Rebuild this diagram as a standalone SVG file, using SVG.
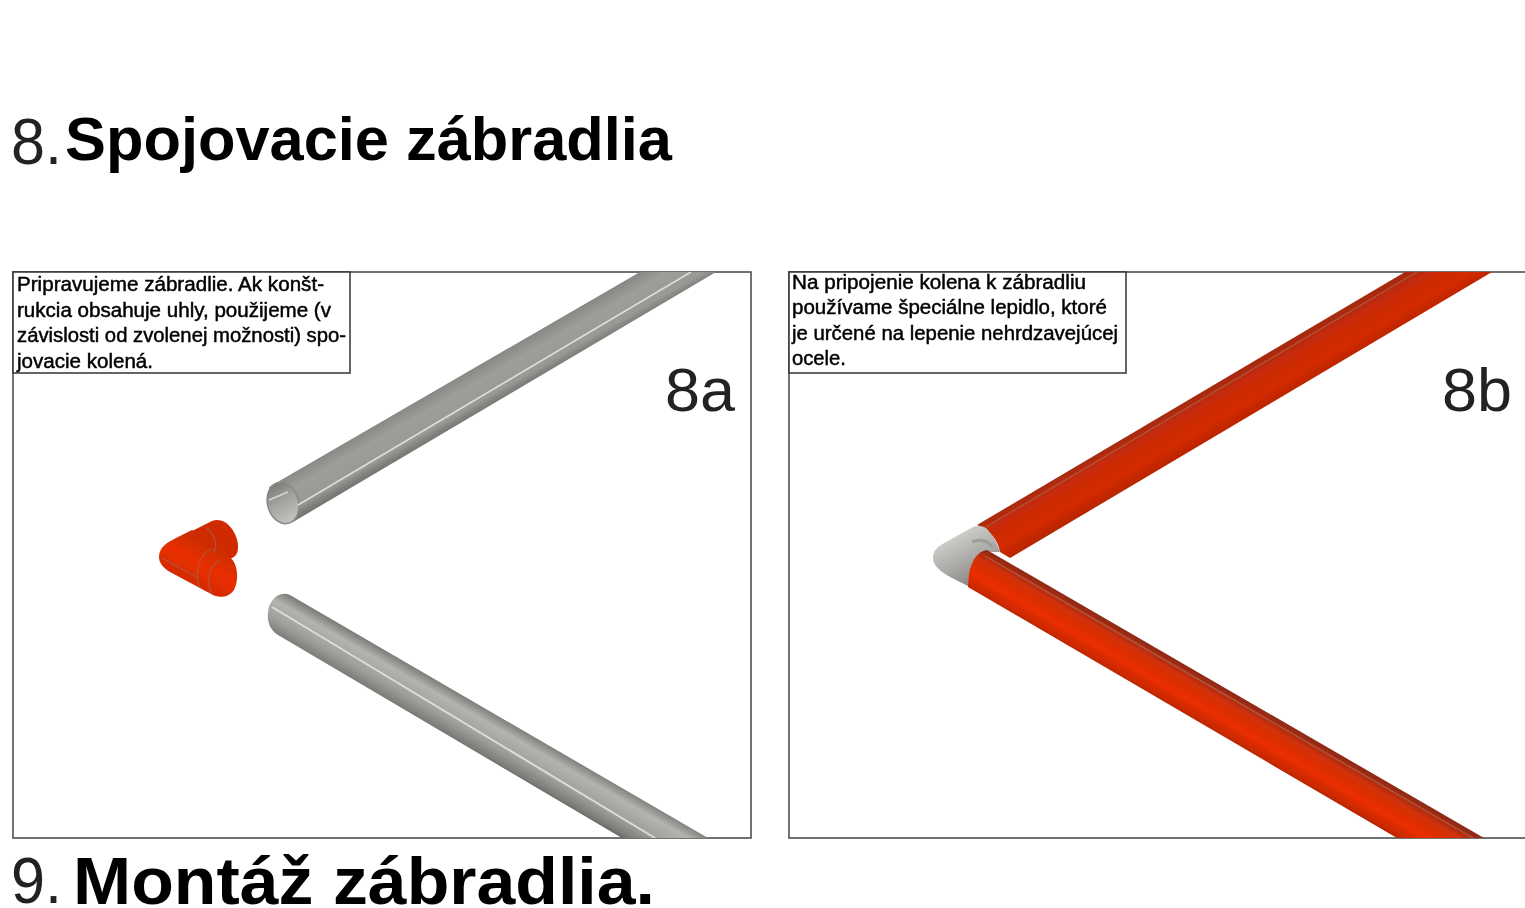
<svg xmlns="http://www.w3.org/2000/svg" width="1525" height="908" viewBox="0 0 1525 908">
<style>
text{font-family:"Liberation Sans",Arial,sans-serif;fill:#000}
.h{font-size:62px;font-weight:bold}
.h9{font-size:66px;font-weight:bold}
.n{font-size:64px;fill:#222}
.l{font-size:62px;fill:#222}
.t{font-size:19.5px;stroke:#000;stroke-width:.45px}
.frame{fill:none;stroke:#444;stroke-width:1.5}
.box{fill:#fff;stroke:#333;stroke-width:1.5}
.hi{fill:none;stroke:#dcdcd8;stroke-width:1.6}
.hr{fill:none;stroke:#b0563f;stroke-width:1.4}
</style>
<defs>
<filter id="soft" x="-5%" y="-5%" width="110%" height="110%"><feGaussianBlur stdDeviation=".7"/></filter>
<filter id="softer" x="-2%" y="-10%" width="104%" height="120%"><feGaussianBlur stdDeviation=".3"/></filter>
<linearGradient id="g1" gradientUnits="userSpaceOnUse" x1="268" y1="487" x2="291" y2="527">
<stop offset="0" stop-color="#8a8885"/><stop offset=".3" stop-color="#a09e9b"/><stop offset=".68" stop-color="#9a9895"/><stop offset=".8" stop-color="#84827f"/><stop offset="1" stop-color="#686663"/>
</linearGradient>
<linearGradient id="g2" gradientUnits="userSpaceOnUse" x1="287" y1="594" x2="264" y2="634">
<stop offset="0" stop-color="#7d7b78"/><stop offset=".25" stop-color="#b5b3b0"/><stop offset=".6" stop-color="#a19f9c"/><stop offset=".88" stop-color="#7e7c79"/><stop offset="1" stop-color="#5f5d5a"/>
</linearGradient>
<linearGradient id="gi" x1=".4" y1="0" x2=".6" y2="1">
<stop offset="0" stop-color="#7d7b78"/><stop offset=".45" stop-color="#a5a3a0"/><stop offset="1" stop-color="#c6c4c1"/>
</linearGradient>
<linearGradient id="r1" gradientUnits="userSpaceOnUse" x1="977" y1="525" x2="1002" y2="568">
<stop offset="0" stop-color="#a82a10"/><stop offset=".18" stop-color="#c62a08"/><stop offset=".6" stop-color="#d42a02"/><stop offset=".88" stop-color="#b82604"/><stop offset="1" stop-color="#8a2410"/>
</linearGradient>
<linearGradient id="r2" gradientUnits="userSpaceOnUse" x1="985" y1="550" x2="960" y2="593">
<stop offset="0" stop-color="#8e2a14"/><stop offset=".2" stop-color="#cf3008"/><stop offset=".55" stop-color="#ea2e00"/><stop offset=".8" stop-color="#c42804"/><stop offset="1" stop-color="#5e180c"/>
</linearGradient>
<linearGradient id="gk" gradientUnits="userSpaceOnUse" x1="948" y1="538" x2="975" y2="590">
<stop offset="0" stop-color="#cfcecb"/><stop offset=".45" stop-color="#adacaa"/><stop offset="1" stop-color="#807f7c"/>
</linearGradient>
<linearGradient id="rk" gradientUnits="userSpaceOnUse" x1="205" y1="535" x2="178" y2="585">
<stop offset="0" stop-color="#c42c08"/><stop offset=".5" stop-color="#ea2f00"/><stop offset=".85" stop-color="#d42b04"/><stop offset="1" stop-color="#962410"/>
</linearGradient>
<clipPath id="ca"><rect x="13" y="272" width="738" height="566"/></clipPath>
<clipPath id="cb"><rect x="789" y="272" width="736" height="566"/></clipPath>
</defs>

<g id="title-8" filter="url(#softer)"><text class="n" x="11" y="164" textLength="51" lengthAdjust="spacingAndGlyphs">8.</text><text class="h" x="65" y="159.500" textLength="607" lengthAdjust="spacingAndGlyphs">Spojovacie zábradlia</text></g>

<g id="panel-8a">
<rect class="frame" x="13" y="272" width="738" height="566"/>
<g clip-path="url(#ca)"><g filter="url(#soft)">
<path d="M269 487L640 272L716 272L293 522Z" fill="url(#g1)"/>
<ellipse cx="283" cy="503" rx="15.500" ry="21" transform="rotate(-15 283 503)" fill="url(#gi)" stroke="#8c8a86" stroke-width="1.500"/>
<path d="M269 500L288 492" fill="none" stroke="#d8d6d2" stroke-width="1.500"/>
<path class="hi" d="M298 505L691 272"/>
<path d="M268 612C269 600 279 590 290 595L708 838L622 838L278 635C270 630 267 622 268 612Z" fill="url(#g2)"/>
<path class="hi" d="M272 607L655 838" style="stroke-width:2"/>
<path d="M190 532L212 521C225 516 238 532 238 547C238 553 236 556 232 558L205 562Z" fill="#d02c06"/>
<path d="M159 557C159 548 166 543 176 538L192 530C205 540 218 549 231 558C238 565 239 580 234 590C228 598 220 598 213 595L170 572C162 567 159 562 159 557Z" fill="url(#rk)"/>
<path class="hr" d="M212 549C200 553 193 572 200 588M220 560C208 566 205 584 213 595M207 528C214 534 218 545 214 552M162 558L198 578" style="stroke-width:1.100"/>
</g></g>
<rect class="box" x="13" y="272" width="337" height="101"/>
<g filter="url(#softer)">
<text class="t" x="17" y="291" textLength="307" lengthAdjust="spacingAndGlyphs">Pripravujeme zábradlie. Ak konšt-</text>
<text class="t" x="17" y="317" textLength="314" lengthAdjust="spacingAndGlyphs">rukcia obsahuje uhly, použijeme (v</text>
<text class="t" x="17" y="342" textLength="329" lengthAdjust="spacingAndGlyphs">závislosti od zvolenej možnosti) spo-</text>
<text class="t" x="17" y="368" textLength="136" lengthAdjust="spacingAndGlyphs">jovacie kolená.</text>
<text class="l" x="665" y="411" textLength="70" lengthAdjust="spacingAndGlyphs">8a</text>
</g>
</g>

<g id="panel-8b">
<path d="M1525 272H789V838H1525" class="frame"/>
<g clip-path="url(#cb)"><g filter="url(#soft)">
<path d="M977 525L1405 272L1492 272L1010 558L1000 552C998 540 990 530 977 525Z" fill="url(#r1)"/>
<path class="hr" d="M986 527L1417 272"/>
<path d="M933 558C933 549 939 546 946 542L973 527C979 525 983 526 986 528C992 534 997 542 1000 552L987 552C975 556 969 568 968 586C955 579 933 571 933 558Z" fill="url(#gk)"/>
<path d="M972 542C980 538 988 541 992 547" fill="none" stroke="#9c9b98" stroke-width="3"/>
<path d="M987 550L1484 838L1397 838L968 587C968 566 975 552 987 550Z" fill="url(#r2)"/>
<path class="hr" d="M985 556L1473 838"/>
</g></g>
<rect class="box" x="789" y="272" width="337" height="101"/>
<g filter="url(#softer)">
<text class="t" x="792" y="289" textLength="294" lengthAdjust="spacingAndGlyphs">Na pripojenie kolena k zábradliu</text>
<text class="t" x="792" y="314" textLength="315" lengthAdjust="spacingAndGlyphs">používame špeciálne lepidlo, ktoré</text>
<text class="t" x="792" y="340" textLength="326" lengthAdjust="spacingAndGlyphs">je určené na lepenie nehrdzavejúcej</text>
<text class="t" x="792" y="365" textLength="54" lengthAdjust="spacingAndGlyphs">ocele.</text>
<text class="l" x="1442" y="411" textLength="70" lengthAdjust="spacingAndGlyphs">8b</text>
</g>
</g>

<g id="title-9" filter="url(#softer)"><text class="n" x="11" y="903" textLength="51" lengthAdjust="spacingAndGlyphs">9.</text><text class="h9" x="73" y="904" textLength="582" lengthAdjust="spacingAndGlyphs">Montáž zábradlia.</text></g>
</svg>
